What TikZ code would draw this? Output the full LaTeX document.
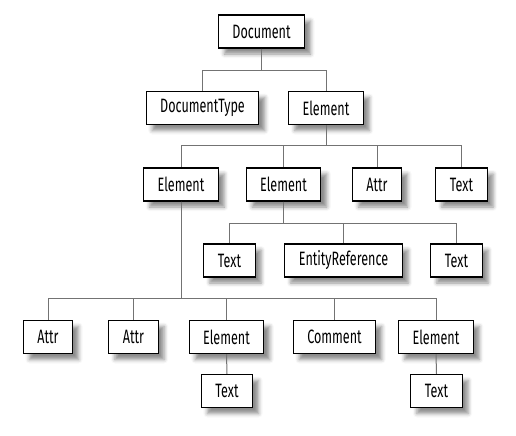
\documentclass[tikz,border=0pt]{standalone}
\usepackage{fontspec}
\setmainfont[FakeStretch=0.65]{Fira Sans}
\usetikzlibrary{shadows.blur}

\begin{document}
\begin{tikzpicture}[x=0.75pt, y=-0.75pt,
	box/.style={rectangle, draw=black, line width=0.8pt, fill=white,
		minimum height=24.75pt, inner xsep=10.5pt, inner ysep=0pt,
		font=\fontsize{14.5}{16}\selectfont,
		blur shadow={shadow xshift=4.5pt, shadow yshift=-4.5pt,
			shadow blur radius=3pt, shadow opacity=45}},
	link/.style={draw=black!55, line width=0.75pt}]
				\useasboundingbox (0,0) rectangle (516,435);
				\coordinate (bus1) at (0,70);
				\coordinate (bus2) at (0,145);
				\coordinate (bus3) at (0,223);
				\coordinate (bus4) at (0,298);
				\node (n0) at (261.5,31.5) [box] {Document};
				\node (n1) at (202.5,108) [box] {DocumentType};
				\node (n2) at (326,108) [box] {Element};
				\node (n3) at (181,184.5) [box] {Element};
				\node (n4) at (283.5,184.5) [box] {Element};
				\node (n5) at (377,184.5) [box] {Attr};
				\node (n6) at (461.5,184.5) [box] {Text};
				\node (n7) at (229.5,260.5) [box] {Text};
				\node (n8) at (343.5,260.5) [box] {EntityReference};
				\node (n9) at (456.5,260.5) [box] {Text};
				\node (n10) at (48,337) [box] {Attr};
				\node (n11) at (133.5,337) [box] {Attr};
				\node (n12) at (226.5,337) [box] {Element};
				\node (n13) at (334.5,337) [box] {Comment};
				\node (n14) at (436,337) [box] {Element};
				\node (n15) at (227,391) [box] {Text};
				\node (n16) at (436.5,391) [box] {Text};
				\draw [link] (n0.south) -- (n0.south |- bus1) -| (n1.north);
				\draw [link] (n0.south) -- (n0.south |- bus1) -| (n2.north);
				\draw [link] (n2.south) -- (n2.south |- bus2) -| (n3.north);
				\draw [link] (n2.south) -- (n2.south |- bus2) -| (n4.north);
				\draw [link] (n2.south) -- (n2.south |- bus2) -| (n5.north);
				\draw [link] (n2.south) -- (n2.south |- bus2) -| (n6.north);
				\draw [link] (n4.south) -- (n4.south |- bus3) -| (n7.north);
				\draw [link] (n4.south) -- (n4.south |- bus3) -| (n8.north);
				\draw [link] (n4.south) -- (n4.south |- bus3) -| (n9.north);
				\draw [link] (n3.south) -- (n3.south |- bus4) -| (n10.north);
				\draw [link] (n3.south) -- (n3.south |- bus4) -| (n11.north);
				\draw [link] (n3.south) -- (n3.south |- bus4) -| (n12.north);
				\draw [link] (n3.south) -- (n3.south |- bus4) -| (n13.north);
				\draw [link] (n3.south) -- (n3.south |- bus4) -| (n14.north);
				\draw [link] (n12.south) -- (n15.north);
				\draw [link] (n14.south) -- (n16.north);
			\end{tikzpicture}
\end{document}
